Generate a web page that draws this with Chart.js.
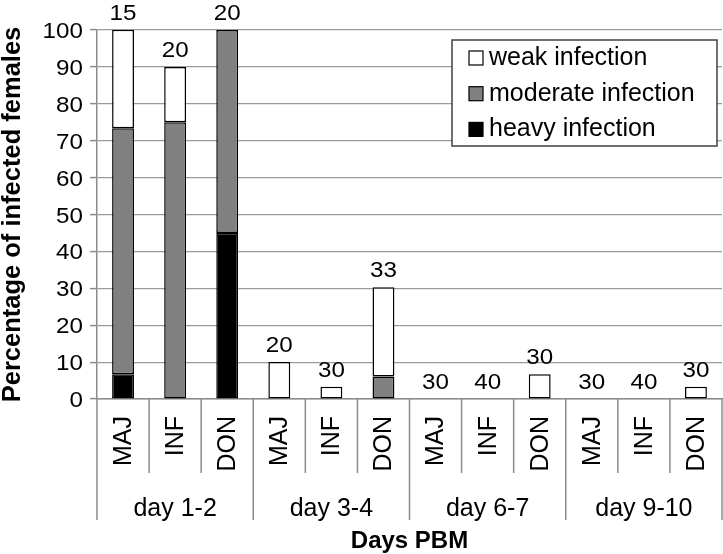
<!DOCTYPE html>
<html>
<head>
<meta charset="utf-8">
<script src="https://cdn.jsdelivr.net/npm/chart.js@4/dist/chart.umd.min.js"></script>
<style>
  html, body { margin: 0; padding: 0; background: #fff; }
  #wrap { width: 723px; height: 554px; position: relative; }
</style>
</head>
<body>
<div id="wrap"><canvas id="chart"></canvas></div>
<script>
// Data (percent of infected females per intensity class)
const groups = ['day 1-2', 'day 3-4', 'day 6-7', 'day 9-10'];
const strains = ['MAJ', 'INF', 'DON'];
const categories = ['MAJ', 'INF', 'DON', 'MAJ', 'INF', 'DON', 'MAJ', 'INF', 'DON', 'MAJ', 'INF', 'DON'];
const heavy    = [6.7, 0, 45,   0, 0, 0,      0, 0, 0,    0, 0, 0];
const moderate = [66.7, 75, 55, 0, 0, 6.1,    0, 0, 0,    0, 0, 0];
const weak     = [26.7, 15, 0,  10, 3.3, 24.2, 0, 0, 6.7,  0, 0, 3.3];
const sampleSizes = [15, 20, 20, 20, 30, 33, 30, 40, 30, 30, 40, 30];
const yTicks = [0, 10, 20, 30, 40, 50, 60, 70, 80, 90, 100];

const FONT = '"Liberation Sans", Arial, sans-serif';
const AXIS_GREY = '#8c8c8c';
const NUM_STRETCH = 1.1; // the numbers in the original are drawn a bit wide

function wideText(ctx, text, x, y, align) {
  ctx.save();
  ctx.translate(x, y);
  ctx.scale(NUM_STRETCH, 1);
  ctx.textAlign = align;
  ctx.fillText(text, 0, 0);
  ctx.restore();
}

// Draws tick numbers, bar labels, the two-level x axis and the legend box
const decorations = {
  id: 'decorations',
  afterDraw(chart) {
    const ctx = chart.ctx;
    const x = chart.scales.x;
    const y = chart.scales.y;
    const area = chart.chartArea;
    const ds = chart.data.datasets;

    ctx.save();
    ctx.fillStyle = '#000';
    ctx.textBaseline = 'alphabetic';
    ctx.font = '22px ' + FONT;

    // y tick numbers
    yTicks.forEach(v => {
      wideText(ctx, String(v), area.left - 14, y.getPixelForValue(v) + 8, 'right');
    });

    // sample sizes above each bar
    sampleSizes.forEach((n, i) => {
      const total = ds.reduce((s, d) => s + d.data[i], 0);
      wideText(ctx, String(n), x.getPixelForValue(i), y.getPixelForValue(total) - 10, 'center');
    });

    // separators below the axis
    const half = (x.getPixelForValue(1) - x.getPixelForValue(0)) / 2;
    ctx.strokeStyle = AXIS_GREY;
    ctx.lineWidth = 1.5;
    for (let i = 0; i <= categories.length; i++) {
      const px = i < categories.length ? x.getPixelForValue(i) - half : x.getPixelForValue(i - 1) + half;
      const isGroupEdge = i % strains.length === 0;
      ctx.beginPath();
      ctx.moveTo(px, area.bottom);
      ctx.lineTo(px, isGroupEdge ? area.bottom + 121 : area.bottom + 74);
      ctx.stroke();
    }

    // rotated strain labels
    ctx.font = '25px ' + FONT;
    ctx.textAlign = 'right';
    ctx.textBaseline = 'middle';
    categories.forEach((lab, i) => {
      ctx.save();
      ctx.translate(x.getPixelForValue(i) + 1, area.bottom + 17);
      ctx.rotate(-Math.PI / 2);
      ctx.fillText(lab, 0, 0);
      ctx.restore();
    });

    // group labels
    ctx.textAlign = 'center';
    ctx.textBaseline = 'alphabetic';
    groups.forEach((g, gi) => {
      const first = x.getPixelForValue(gi * strains.length);
      const last = x.getPixelForValue(gi * strains.length + strains.length - 1);
      ctx.fillText(g, (first + last) / 2, area.bottom + 117);
    });

    // axis title
    ctx.font = 'bold 24px ' + FONT;
    ctx.fillText('Days PBM', (area.left + area.right) / 2, area.bottom + 149);

    // legend box, top item = last dataset
    const bx = 452, by = 40, bw = 265, bh = 106;
    ctx.fillStyle = '#fff';
    ctx.fillRect(bx, by, bw, bh);
    ctx.strokeStyle = '#404040';
    ctx.lineWidth = 1.5;
    ctx.strokeRect(bx, by, bw, bh);
    ctx.font = '25px ' + FONT;
    ctx.textAlign = 'left';
    ds.slice().reverse().forEach((d, k) => {
      const base = by + 25 + k * 35.7;
      ctx.fillStyle = d.backgroundColor;
      ctx.fillRect(bx + 17, base - 14, 14, 14);
      ctx.strokeStyle = '#000';
      ctx.lineWidth = 1.2;
      ctx.strokeRect(bx + 17, base - 14, 14, 14);
      ctx.fillStyle = '#000';
      ctx.fillText(d.label, bx + 37, base);
    });

    ctx.restore();
  }
};

const barStyle = {
  borderColor: '#000',
  borderWidth: c => (c.raw ? 1.5 : 0),
  borderSkipped: false,
  categoryPercentage: 1,
  barPercentage: 0.42
};

new Chart(document.getElementById('chart'), {
  type: 'bar',
  data: {
    labels: categories,
    datasets: [
      { label: 'heavy infection', data: heavy, backgroundColor: '#000000', ...barStyle },
      { label: 'moderate infection', data: moderate, backgroundColor: '#808080', ...barStyle },
      { label: 'weak infection', data: weak, backgroundColor: '#ffffff', ...barStyle }
    ]
  },
  options: {
    responsive: true,
    maintainAspectRatio: false,
    animation: false,
    layout: { padding: { top: 30, right: 1, left: 0, bottom: 0 } },
    plugins: {
      legend: { display: false },
      tooltip: { enabled: false }
    },
    scales: {
      x: {
        stacked: true,
        grid: { display: false },
        border: { display: true, color: AXIS_GREY, width: 1.5 },
        ticks: { display: false },
        afterFit: s => { s.height = 155; }
      },
      y: {
        stacked: true,
        min: 0,
        max: 100,
        afterBuildTicks: s => { s.ticks = yTicks.map(v => ({ value: v })); },
        grid: {
          color: '#9a9a9a',
          lineWidth: 1.2,
          borderDash: [1.5, 2.5],
          tickLength: 7,
          tickColor: AXIS_GREY,
          tickWidth: 1.5,
          tickBorderDash: []
        },
        border: { display: true, color: AXIS_GREY, width: 1.5 },
        ticks: { display: false },
        title: {
          display: true,
          text: 'Percentage of infected females',
          color: '#000',
          padding: 0,
          font: { family: FONT, size: 25.5, weight: 'bold', lineHeight: 1 }
        },
        afterFit: s => { s.width = 97; }
      }
    }
  },
  plugins: [decorations]
});
</script>
</body>
</html>
